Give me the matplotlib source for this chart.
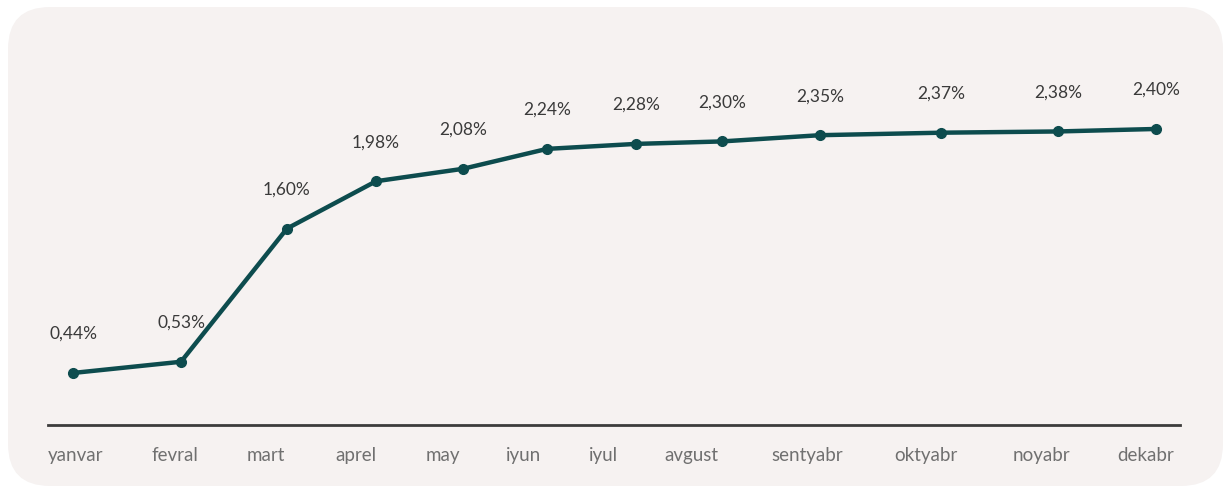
"""Monthly cumulative rate line chart on a rounded panel."""

import matplotlib

matplotlib.use("Agg")

import matplotlib.pyplot as plt  # noqa: E402
from matplotlib.patches import FancyBboxPatch  # noqa: E402

# Data
months = ["yanvar", "fevral", "mart", "aprel", "may", "iyun",
          "iyul", "avgust", "sentyabr", "oktyabr", "noyabr", "dekabr"]
rates = [0.44, 0.53, 1.60, 1.98, 2.08, 2.24, 2.28, 2.30, 2.35, 2.37, 2.38, 2.40]

# Layout: where each month sits along the axis (uneven in the original),
# and where its name is printed underneath
month_x = [73, 181, 287, 376, 463, 547, 636, 722, 820, 941, 1058, 1156]
label_x = [76, 175, 266, 356, 443, 524, 603, 691, 807, 926, 1041, 1146]

_PANEL = "#f6f2f1"
_LINE = "#0d4c4e"
_VALUE = "#3a3a3a"
_TICK = "#707070"
_AXIS = "#3c3c3c"

W, H = 1227, 488
fig = plt.figure(figsize=(W / 100, H / 100), dpi=100, facecolor="white")

# Rounded background panel
bg = fig.add_axes([0, 0, 1, 1])
bg.set_xlim(0, W)
bg.set_ylim(H, 0)
bg.axis("off")
bg.add_patch(FancyBboxPatch(
    (8, 7), W - 12, H - 9,
    boxstyle="round,pad=0,rounding_size=42",
    facecolor=_PANEL, edgecolor="none",
))

# Chart
left, right = 48 / W, 1180 / W
bottom, top = 1 - 425 / H, 1 - 60 / H
ax = fig.add_axes([left, bottom, right - left, top - bottom])
ax.set_facecolor("none")

ax.plot(month_x, rates, color=_LINE, linewidth=3.2,
        marker="o", markersize=7, solid_capstyle="round", zorder=3)

for x, v in zip(month_x, rates):
    ax.annotate(
        f"{v:.2f}%".replace(".", ","),
        (x, v), xytext=(0, 28), textcoords="offset points",
        ha="center", va="center",
        color=_VALUE, fontsize=12.5, family="Lato",
    )

ax.set_xlim(48, 1180)
ax.set_ylim(0.022, 2.954)
ax.set_yticks([])
ax.set_xticks(label_x)
ax.set_xticklabels(months, family="Lato", fontsize=13.5, color=_TICK)
ax.tick_params(axis="x", length=0, pad=16)

for side in ("top", "right", "left"):
    ax.spines[side].set_visible(False)
ax.spines["bottom"].set_color(_AXIS)
ax.spines["bottom"].set_linewidth(2)

fig.savefig("out.png", dpi=100, facecolor="white")
plt.close(fig)
